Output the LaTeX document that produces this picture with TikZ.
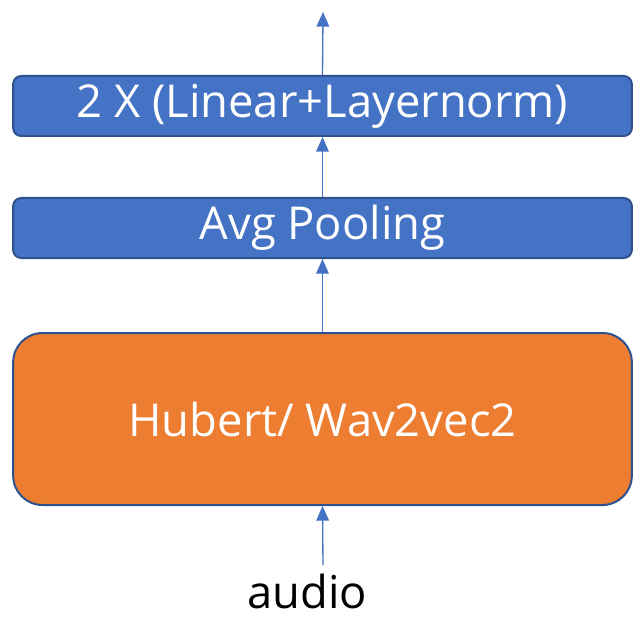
\documentclass[tikz,border=0pt]{standalone}
\usepackage{fontspec}
\setmainfont{Open Sans}
\usetikzlibrary{arrows.meta}
\definecolor{blu}{HTML}{4472C4}
\definecolor{bludark}{HTML}{2F528F}
\definecolor{ora}{HTML}{ED7D31}
\tikzset{
    rndblu/.style={rounded corners=6pt,draw=bludark,line width=1.5pt,fill=blu,minimum width=464pt,minimum height=45pt,align=center,text=white,font=\fontsize{34}{40}\selectfont},
    rndora/.style={rounded corners=22pt,draw=bludark,line width=1.5pt,fill=ora,minimum width=464pt,minimum height=129pt,align=center,text=white,font=\fontsize{34}{40}\selectfont},
    txtblk/.style={align=center,text=black,font=\fontsize{34}{40}\selectfont,inner sep=0pt}
}

\begin{document}
\begin{tikzpicture}[x=0.75pt,y=-0.75pt]
        \useasboundingbox (0,0) rectangle (634,620);
        %---
        \node[rndblu] (lin) at (322.5,106) {2 X (Linear+Layernorm)};
        \node[rndblu] (avg) at (322.5,228) {Avg Pooling};
        \node[rndora] (hub) at (322.5,419) {Hubert/ Wav2vec2};
        \node[txtblk,anchor=base] (audio) at (307,608) {audio};

        \coordinate (src) at (323,565);
        \coordinate (out) at (323,12);

        \begin{scope}[every path/.style={-{Triangle[length=11pt,width=9.5pt]},draw=blu,line width=1pt}]
            \draw (src) -- (hub.south);
            \draw (hub.north) -- (avg.south);
            \draw (avg.north) -- (lin.south);
            \draw (lin.north) -- (out);
        \end{scope}
    \end{tikzpicture}
\end{document}
